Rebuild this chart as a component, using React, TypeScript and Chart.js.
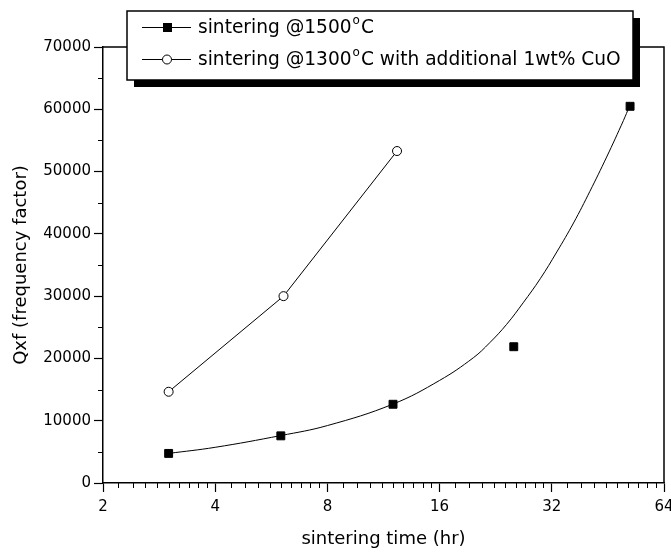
import React, { useEffect, useRef } from 'react';
import { Chart, registerables } from 'chart.js';

Chart.register(...registerables);

// Series 1: sintering @1500°C (filled squares)
const timesA = [3, 6, 12, 25.3, 51.9];
const qfA = [4750, 7570, 12640, 21880, 60480];

// Series 2: sintering @1300°C with additional 1wt% CuO (open circles)
const timesB = [3, 6.1, 12.3];
const qfB = [14650, 30000, 53300];

// Fitted curve through series 1
const fitTimes = [3, 4, 6, 8, 12, 16, 19.7, 21.8, 24.2, 26.8, 29.8, 33, 36.6, 40.5, 44.9, 49.8, 51.7];
const fitQf = [4750, 5730, 7620, 9220, 12670, 16470, 20100, 22510, 25460, 28920, 32800, 37090, 41750, 46840, 52330, 58180, 60490];

const xTicks = [2, 4, 8, 16, 32, 64];
const yTicks = [0, 10000, 20000, 30000, 40000, 50000, 60000, 70000];
const yMinorTicks = [5000, 15000, 25000, 35000, 45000, 55000, 65000];

const legendRows = [
  ['sintering @1500', 'o', 'C'],
  ['sintering @1300', 'o', 'C with additional 1wt% CuO'],
];

const xTitle = 'sintering time (hr)';
const yTitle = 'Qxf (frequency factor)';

const FONT = 'DejaVu Sans';

const framePlugin = {
  id: 'frameAndLegend',
  afterDraw(chart: any) {
    const { ctx, chartArea } = chart;
    const xs = chart.scales.x;
    const ys = chart.scales.y;
    ctx.save();
    ctx.strokeStyle = '#000';
    // minor ticks x
    ctx.lineWidth = 1;
    for (let k = 0; k < xTicks.length - 1; k++) {
      const a = xTicks[k];
      for (let i = 1; i <= 9; i++) {
        const px = Math.round(xs.getPixelForValue(a * (1 + 0.1 * i))) + 0.5;
        ctx.beginPath();
        ctx.moveTo(px, chartArea.bottom);
        ctx.lineTo(px, chartArea.bottom + 5);
        ctx.stroke();
      }
    }
    // minor ticks y
    for (const v of yMinorTicks) {
      const py = Math.round(ys.getPixelForValue(v)) + 0.5;
      ctx.beginPath();
      ctx.moveTo(chartArea.left - 5, py);
      ctx.lineTo(chartArea.left, py);
      ctx.stroke();
    }
    // frame top & right
    ctx.lineWidth = 1.5;
    ctx.beginPath();
    ctx.moveTo(chartArea.left, chartArea.top);
    ctx.lineTo(chartArea.right, chartArea.top);
    ctx.lineTo(chartArea.right, chartArea.bottom);
    ctx.stroke();

    // legend
    const bx = 127, by = 11, bw = 506, bh = 69, sh = 7;
    ctx.fillStyle = '#000';
    ctx.fillRect(bx + sh, by + sh, bw, bh);
    ctx.fillStyle = '#fff';
    ctx.fillRect(bx, by, bw, bh);
    ctx.lineWidth = 1.5;
    ctx.strokeRect(bx, by, bw, bh);

    const rowsY = [27, 59];
    const lx0 = 142, lx1 = 191, mx = 167, tx = 198;
    rowsY.forEach((ry, idx) => {
      ctx.strokeStyle = '#000';
      ctx.lineWidth = 1;
      ctx.beginPath();
      ctx.moveTo(lx0, ry + 0.5);
      ctx.lineTo(lx1, ry + 0.5);
      ctx.stroke();
      if (idx === 0) {
        ctx.fillStyle = '#000';
        ctx.fillRect(mx - 4, ry - 4, 9, 9);
      } else {
        ctx.fillStyle = '#fff';
        ctx.beginPath();
        ctx.arc(mx, ry + 0.5, 4.5, 0, Math.PI * 2);
        ctx.fill();
        ctx.stroke();
      }
      const parts = legendRows[idx];
      ctx.fillStyle = '#000';
      ctx.textBaseline = 'middle';
      ctx.textAlign = 'left';
      let x = tx;
      ctx.font = `18.6px "${FONT}"`;
      ctx.fillText(parts[0], x, ry + 1);
      x += ctx.measureText(parts[0]).width + 1;
      ctx.font = `12px "${FONT}"`;
      ctx.fillText(parts[1], x, ry - 6);
      x += ctx.measureText(parts[1]).width + 1;
      ctx.font = `18.6px "${FONT}"`;
      ctx.fillText(parts[2], x, ry + 1);
    });
    ctx.restore();
  },
};

export default function App() {
  const ref = useRef<HTMLCanvasElement | null>(null);
  useEffect(() => {
    if (!ref.current) return;
    const chart = new Chart(ref.current, {
      type: 'scatter',
      data: {
        datasets: [
          {
            label: 'fit',
            data: fitTimes.map((t, i) => ({ x: t, y: fitQf[i] })),
            showLine: true,
            borderColor: '#000',
            borderWidth: 1,
            pointRadius: 0,
            tension: 0.4,
          },
          {
            label: 'sintering @1500°C',
            data: timesA.map((t, i) => ({ x: t, y: qfA[i] })),
            showLine: false,
            pointStyle: 'rect',
            pointRadius: 5.6,
            backgroundColor: '#000',
            borderColor: '#000',
            borderWidth: 1,
          },
          {
            label: 'sintering @1300°C with additional 1wt% CuO',
            data: timesB.map((t, i) => ({ x: t, y: qfB[i] })),
            showLine: true,
            borderColor: '#000',
            borderWidth: 1,
            pointStyle: 'circle',
            pointRadius: 4.5,
            backgroundColor: '#fff',
            pointBackgroundColor: '#fff',
            pointBorderColor: '#000',
            pointBorderWidth: 1,
          },
        ],
      },
      options: {
        animation: false,
        responsive: false,
        devicePixelRatio: 1,
        layout: { padding: { top: 47, right: 7, left: 0, bottom: 0 } },
        plugins: { legend: { display: false }, tooltip: { enabled: false } },
        scales: {
          x: {
            type: 'logarithmic',
            min: 2,
            max: 64,
            afterBuildTicks: (s: any) => {
              s.ticks = xTicks.map((v) => ({ value: v }));
            },
            afterFit: (s: any) => {
              s.height = 73;
              s.paddingLeft = 0;
              s.paddingRight = 0;
            },
            ticks: {
              autoSkip: false,
              maxRotation: 0,
              padding: 6,
              color: '#000',
              font: { family: FONT, size: 15 },
              callback: (v: any) => String(v),
            },
            grid: { drawOnChartArea: false, drawTicks: true, tickLength: 9, color: '#000', tickWidth: 1.2 },
            border: { display: true, color: '#000', width: 1.5 },
            title: {
              display: true,
              text: xTitle,
              color: '#000',
              font: { family: FONT, size: 18 },
              padding: { top: 0, bottom: 6 },
            },
          },
          y: {
            type: 'linear',
            min: 0,
            max: 70000,
            afterBuildTicks: (s: any) => {
              s.ticks = yTicks.map((v) => ({ value: v }));
            },
            afterFit: (s: any) => {
              s.width = 103;
              s.paddingTop = 0;
              s.paddingBottom = 0;
            },
            ticks: {
              padding: 3,
              color: '#000',
              font: { family: FONT, size: 15 },
              callback: (v: any) => String(v),
            },
            grid: { drawOnChartArea: false, drawTicks: true, tickLength: 9, color: '#000', tickWidth: 1.2 },
            border: { display: true, color: '#000', width: 1.5 },
            title: {
              display: true,
              text: yTitle,
              color: '#000',
              font: { family: FONT, size: 18 },
              padding: { top: 11, bottom: 0 },
            },
          },
        },
      },
      plugins: [framePlugin],
    } as any);
    return () => chart.destroy();
  }, []);
  return (
    <div style={{ position: 'absolute', left: 0, top: 0, width: 671, height: 556, background: '#fff' }}>
      <canvas ref={ref} width={671} height={556} style={{ display: 'block' }} />
    </div>
  );
}
